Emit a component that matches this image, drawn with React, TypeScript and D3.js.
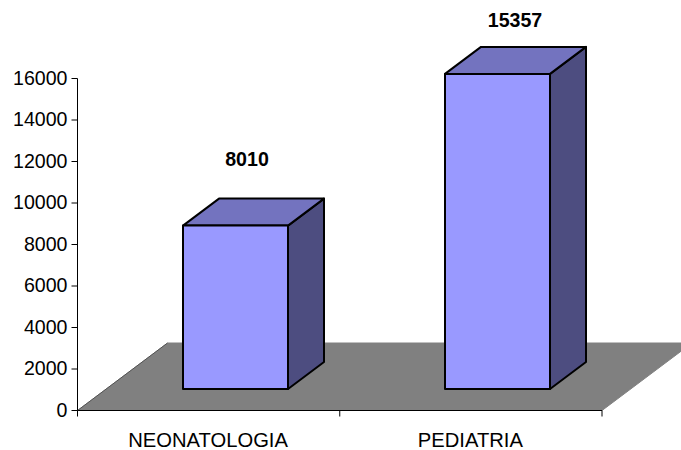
import React from "react";
import * as d3 from "d3";

const categories = ["NEONATOLOGIA", "PEDIATRIA"];
const values = [8010, 15357];
const yTicks = [0, 2000, 4000, 6000, 8000, 10000, 12000, 14000, 16000];
const barLeft = [183, 445];
const labelX = [247, 515];
const labelY = [166, 27];

const W = 681, H = 450;
const FONT = "'Liberation Sans', Arial, sans-serif";
const axisX = 77.5, axisY0 = 410.5, axisY1 = 78.5, axisEnd = 602;
const depthX = 90, depthY = 67.5;
const barW = 105, barDx = 36, barDy = 27;
const barBase = 389;
const FS = 19.6;

export default function App() {
  const y = d3.scaleLinear().domain([0, 16000]).range([axisY0, axisY1]);
  const yBar = d3.scaleLinear().domain([0, 16000]).range([391, 60.6]);
  const x = d3.scaleBand<string>().domain(categories).range([axisX, axisEnd]);
  const line = d3.line();
  const poly = (pts: [number, number][]) => line(pts) + "Z";
  return (
    <svg width={W} height={H} viewBox={`0 0 ${W} ${H}`} style={{ position: "absolute", left: 0, top: 0, background: "#fff" }} fontFamily={FONT}>
      <path d={poly([[axisX, axisY0], [axisX + depthX, axisY0 - depthY], [axisEnd + depthX, axisY0 - depthY], [axisEnd, axisY0]])} fill="#808080" stroke="#808080" strokeWidth={1} />
      <path d={`M${axisX},${axisY1}V${axisY0}H${axisEnd}`} fill="none" stroke="#000" strokeWidth={1} />
      <path d={`M${axisX},${axisY0}L${axisX + depthX},${axisY0 - depthY}`} stroke="#333" strokeWidth={0.6} fill="none" />
      {yTicks.map(t => (
        <g key={t}>
          <line x1={axisX - 6} x2={axisX} y1={y(t)} y2={y(t)} stroke="#000" />
          <text x={67.5} y={y(t) + 6.2} textAnchor="end" fontSize={FS} fill="#000">{t}</text>
        </g>
      ))}
      {[axisX, axisX + x.bandwidth(), axisEnd].map(v => (
        <line key={v} x1={v} x2={v} y1={axisY0} y2={axisY0 + 6} stroke="#000" />
      ))}
      {categories.map(c => (
        <text key={c} x={x(c)! + x.bandwidth() / 2 - 0.5} y={447} textAnchor="middle" fontSize={20.2} fill="#000">{c}</text>
      ))}
      {values.map((v, i) => {
        const l = barLeft[i], r = l + barW, t = yBar(v), b = barBase;
        return (
          <g key={i} stroke="#000" strokeWidth={2} strokeLinejoin="round">
            <path d={poly([[r, t], [r + barDx, t - barDy], [r + barDx, b - barDy], [r, b]])} fill="#4D4D80" />
            <path d={poly([[l, t], [l + barDx, t - barDy], [r + barDx, t - barDy], [r, t]])} fill="#7373BF" />
            <rect x={l} y={t} width={barW} height={b - t} fill="#9999FF" />
          </g>
        );
      })}
      {values.map((v, i) => (
        <text key={v} x={labelX[i]} y={labelY[i]} textAnchor="middle" fontSize={FS} fontWeight="bold" fill="#000">{v}</text>
      ))}
    </svg>
  );
}
